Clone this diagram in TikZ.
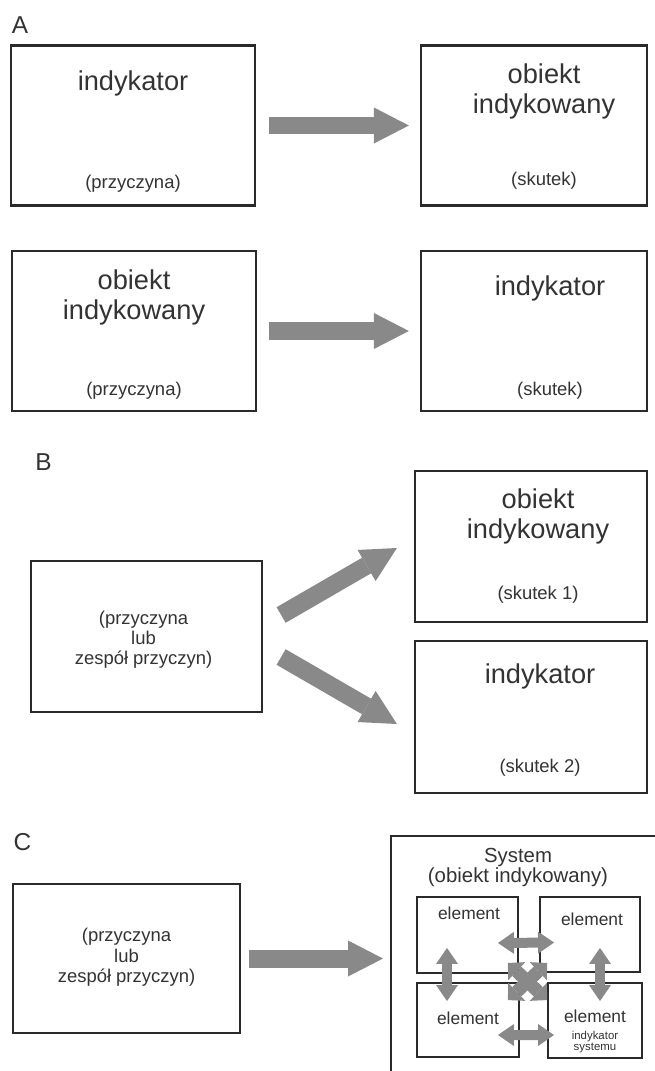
\documentclass[tikz,border=0pt]{standalone}
\usepackage{fontspec}
\setmainfont{Liberation Sans}
\usetikzlibrary{arrows.meta,positioning}

\definecolor{inkgray}{HTML}{333333}
\definecolor{framegray}{HTML}{2A2A2A}
\definecolor{arrowgray}{HTML}{898989}

\tikzset{
	panel/.style={draw=framegray, line width=1.3pt, fill=white, inner sep=0pt},
	elembox/.style={draw=framegray, line width=1.1pt, fill=white, inner sep=0pt},
	bigtxt/.style={text=inkgray, align=center, inner sep=0pt, font=\fontsize{15.5}{17}\selectfont},
	smalltxt/.style={text=inkgray, align=center, inner sep=0pt, font=\fontsize{10.5}{11.3}\selectfont},
	systxt/.style={text=inkgray, align=center, inner sep=0pt, font=\fontsize{11.6}{11.9}\selectfont},
	elemtxt/.style={text=inkgray, align=center, inner sep=0pt, font=\fontsize{9.9}{11}\selectfont},
	tinytxt/.style={text=inkgray, align=center, inner sep=0pt, font=\fontsize{6.5}{6.8}\selectfont},
	partlabel/.style={text=inkgray, inner sep=0pt, font=\fontsize{13.9}{15}\selectfont},
	fatarrow/.style={draw=arrowgray, line width=0.36cm,
		-{Triangle[length=0.7cm, width=0.72cm, line width=0pt]}},
	dblarrow/.style={draw=arrowgray, line width=0.2cm,
		{Triangle[length=0.32cm, width=0.44cm, line width=0pt]}-{Triangle[length=0.32cm, width=0.44cm, line width=0pt]}},
	xarrow/.style={draw=arrowgray, line width=0.26cm,
		{Triangle[length=0.24cm, width=0.5cm, line width=0pt]}-{Triangle[length=0.24cm, width=0.5cm, line width=0pt]}}
}

\begin{document}
\begin{tikzpicture}[x=0.02cm, y=-0.02cm]
	\useasboundingbox[fill=white] (0,0) rectangle (655,1071);

	% A
	\node[partlabel] (labA) at (20,25.5) {A};
	\node[panel, minimum width=4.88cm, minimum height=3.2cm] (a1) at (133,125.5) {};
	\node[panel, minimum width=4.52cm, minimum height=3.2cm] (a2) at (534,125.5) {};
	\node[panel, minimum width=4.88cm, minimum height=3.2cm] (a3) at (134,331) {};
	\node[panel, minimum width=4.52cm, minimum height=3.2cm] (a4) at (534,331) {};

	\node[bigtxt] (a1t) at ([shift={(0,39)}]a1.north) {indykator};
	\node[smalltxt] (a1s) at ([shift={(0,-22.5)}]a1.south) {(przyczyna)};
	\node[bigtxt] (a2t) at ([shift={(10,47)}]a2.north) {obiekt\\indykowany};
	\node[smalltxt] (a2s) at ([shift={(10,-25.5)}]a2.south) {(skutek)};
	\node[bigtxt] (a3t) at ([shift={(0,47.5)}]a3.north) {obiekt\\indykowany};
	\node[smalltxt] (a3s) at ([shift={(0,-21)}]a3.south) {(przyczyna)};
	\node[bigtxt] (a4t) at ([shift={(16,38.5)}]a4.north) {indykator};
	\node[smalltxt] (a4s) at ([shift={(16,-21)}]a4.south) {(skutek)};

	\draw[fatarrow, shorten <=0.26cm, shorten >=0.22cm] (a1.east) -- (a2.west);
	\draw[fatarrow, shorten <=0.24cm, shorten >=0.22cm] (a3.east) -- (a4.west);

	% B
	\node[partlabel] (labB) at (43.5,462) {B};
	\node[panel, minimum width=4.62cm, minimum height=3.02cm] (b1) at (146.5,636.5) {};
	\node[panel, minimum width=4.64cm, minimum height=3.02cm] (b2) at (531,546.5) {};
	\node[panel, minimum width=4.64cm, minimum height=3.04cm] (b3) at (531,717) {};

	\node[smalltxt, font=\fontsize{10.5}{11.4}\selectfont] (b1t) at ([shift={(-3,3)}]b1.center) {(przyczyna\\lub\\zespół przyczyn)};
	\node[bigtxt] (b2t) at ([shift={(7,46.5)}]b2.north) {obiekt\\indykowany};
	\node[smalltxt] (b2s) at ([shift={(7,-28)}]b2.south) {(skutek 1)};
	\node[bigtxt] (b3t) at ([shift={(9,37)}]b3.north) {indykator};
	\node[smalltxt] (b3s) at ([shift={(9,-26)}]b3.south) {(skutek 2)};

	\draw[fatarrow] ([shift={(18,-21.5)}]b1.east) -- ([shift={(-17,1.5)}]b2.west);
	\draw[fatarrow] ([shift={(18,20.5)}]b1.east) -- ([shift={(-17,7)}]b3.west);

	% C
	\node[partlabel] (labC) at (22.5,842.5) {C};
	\node[panel, minimum width=4.54cm, minimum height=2.98cm] (c1) at (126.5,958.5) {};
	\node[smalltxt, font=\fontsize{10.5}{11.6}\selectfont] (c1t) at ([shift={(0,-1)}]c1.center) {(przyczyna\\lub\\zespół przyczyn)};

	\coordinate (sys) at (391,836);
	\draw[framegray, line width=1.3pt] (655,836) -| (391,1071);
	\node[systxt] (syst) at ([shift={(127,31.5)}]sys) {System\\(obiekt indykowany)};

	\draw[fatarrow, shorten <=0.16cm, shorten >=0.16cm] (c1.east) -- (c1.east -| sys);

	\node[elembox, minimum width=2.02cm, minimum height=1.52cm] (tl) at (467.5,935) {};
	\node[elembox, minimum width=2cm, minimum height=1.5cm] (tr) at (590,934.5) {};
	\node[elembox, minimum width=2.04cm, minimum height=1.48cm] (bl) at (468,1020) {};
	\node[elembox, minimum width=1.88cm, minimum height=1.5cm] (br) at (595,1020.5) {};

	\node[elemtxt] (tlt) at ([shift={(1.5,17)}]tl.north) {element};
	\node[elemtxt] (trt) at ([shift={(2,23)}]tr.north) {element};
	\node[elemtxt] (blt) at ([shift={(0,-2)}]bl.center) {element};
	\node[elemtxt] (brt) at ([shift={(0,34)}]br.north) {element};
	\node[tinytxt] (brs) at ([shift={(0,60)}]br.north) {indykator\\systemu};

	\draw[dblarrow] ([shift={(-21,8)}]tl.east) -- ([shift={(15,8)}]tr.west);
	\draw[dblarrow] ([shift={(-22,15)}]bl.east) -- ([shift={(7,14.5)}]br.west);
	\draw[dblarrow] ([shift={(-20.5,-26)}]tl.south) -- ([shift={(-21,19)}]bl.north);
	\draw[dblarrow] ([shift={(10,-25)}]tr.south) -- ([shift={(5,19)}]br.north);
	\draw[xarrow] ([shift={(-11,-11)}]tl.south east) -- ([shift={(0,18)}]br.north west);
	\draw[xarrow] ([shift={(8,-10)}]tr.south west) -- ([shift={(-12,18)}]bl.north east);
\end{tikzpicture}
\end{document}
